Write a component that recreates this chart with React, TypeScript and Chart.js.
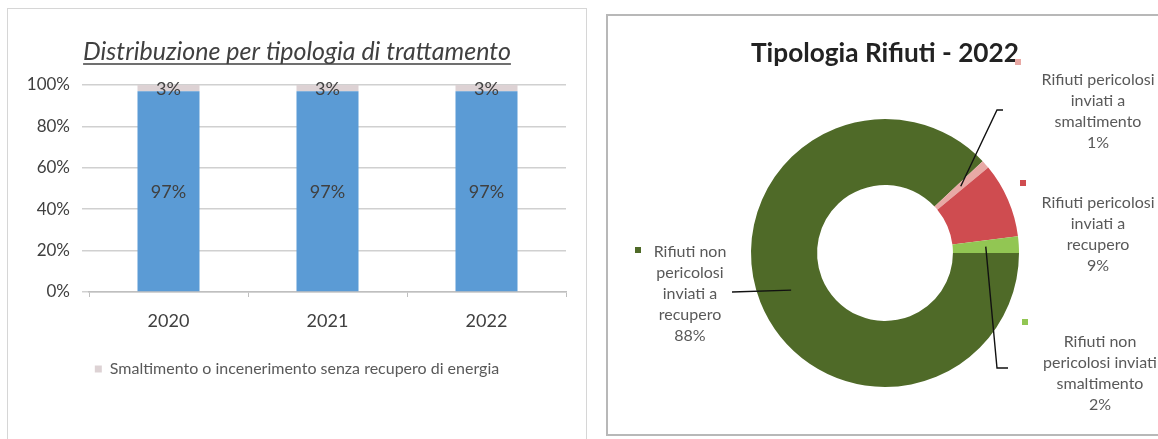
import React, { useEffect, useRef } from "react";
import { Chart, registerables } from "chart.js";

Chart.register(...registerables);

const FONT = "Lato, 'Open Sans', sans-serif";

// ---------- Left chart data ----------
const leftTitle = "Distribuzione per tipologia di trattamento";
const years = ["2020", "2021", "2022"];
const recoveryShare = [97, 97, 97];
const disposalShare = [3, 3, 3];
const recoveryLabel = "Recupero";
const disposalLabel = "Smaltimento o incenerimento senza recupero di energia";
const percentTicks = [0, 20, 40, 60, 80, 100];

// ---------- Right chart data ----------
const wasteTitle = "Tipologia Rifiuti - 2022";
const wasteCategories = [
  "Rifiuti non pericolosi inviati a recupero",
  "Rifiuti pericolosi inviati a smaltimento",
  "Rifiuti pericolosi inviati a recupero",
  "Rifiuti non pericolosi inviati smaltimento",
];
const wasteShares = [88, 1, 9, 2];
const wasteLabelLines = [
  ["Rifiuti non", "pericolosi", "inviati a", "recupero"],
  ["Rifiuti pericolosi", "inviati a", "smaltimento"],
  ["Rifiuti pericolosi", "inviati a", "recupero"],
  ["Rifiuti non", "pericolosi inviati", "smaltimento"],
];

// ---------- Styles ----------
const BLUE = "#5b9bd5";
const LIGHT = "#ddd2d4";
const wasteColors = ["#4f6a28", "#e8a9a5", "#cf4c50", "#92c653"];
const TITLE_SIZE = 25;
const TITLE_PAD_TOP = 37;
// label placement offsets relative to the doughnut centre (style only)
const labelLayout = [
  { tx: -195, ty: -1, kx: -247, ky: -3, leader: [[-153, 39]] },
  { tx: 213, ty: -173, kx: 133, ky: -191, leader: [[112, -143], [118, -143]] },
  { tx: 213, ty: -50, kx: 138, ky: -70, leader: null },
  { tx: 215, ty: 89, kx: 140, ky: 69, leader: [[112, 115], [123, 115]] },
];

const barLabelsPlugin = {
  id: "barLabels",
  afterDatasetsDraw(chart: any) {
    const ctx = chart.ctx;
    ctx.save();
    ctx.font = `18px ${FONT}`;
    ctx.fillStyle = "#404040";
    ctx.textAlign = "center";
    ctx.textBaseline = "middle";
    chart.data.datasets.forEach((ds: any, di: number) => {
      const meta = chart.getDatasetMeta(di);
      meta.data.forEach((bar: any, i: number) => {
        const { x, y, base } = bar.getProps(["x", "y", "base"], true);
        ctx.fillText(ds.data[i] + "%", x, (y + base) / 2 + 1);
      });
    });
    // underline title
    const tb = chart.titleBlock;
    if (tb) {
      ctx.font = `italic ${TITLE_SIZE}px ${FONT}`;
      const w = ctx.measureText(leftTitle).width;
      const cx = (tb.left + tb.right) / 2;
      const cy = tb.top + TITLE_PAD_TOP + TITLE_SIZE * 0.6 + 12;
      ctx.strokeStyle = "#404040";
      ctx.lineWidth = 1.3;
      ctx.beginPath();
      ctx.moveTo(cx - w / 2, cy);
      ctx.lineTo(cx + w / 2, cy);
      ctx.stroke();
    }
    ctx.restore();
  },
};

const doughnutLabelsPlugin = {
  id: "doughnutLabels",
  afterDatasetsDraw(chart: any) {
    const ctx = chart.ctx;
    const meta = chart.getDatasetMeta(0);
    if (!meta.data.length) return;
    const cx = meta.data[0].x;
    const cy = meta.data[0].y;
    ctx.save();
    meta.data.forEach((arc: any, i: number) => {
      const L = labelLayout[i];
      const p = arc.getCenterPoint();
      if (L.leader) {
        ctx.beginPath();
        ctx.moveTo(p.x, p.y);
        L.leader.forEach(([dx, dy]: number[]) => ctx.lineTo(cx + dx, cy + dy));
        ctx.strokeStyle = "#111";
        ctx.lineWidth = 1.4;
        ctx.stroke();
      }
      ctx.fillStyle = wasteColors[i];
      ctx.fillRect(cx + L.kx - 3, cy + L.ky - 3, 6, 6);
      ctx.fillStyle = "#595959";
      ctx.font = `16px ${FONT}`;
      ctx.textAlign = "center";
      ctx.textBaseline = "middle";
      const lines = [...wasteLabelLines[i], wasteShares[i] + "%"];
      lines.forEach((t, j) => ctx.fillText(t, cx + L.tx, cy + L.ty + j * 21));
    });
    ctx.restore();
  },
};

export default function App() {
  const barRef = useRef<HTMLCanvasElement>(null);
  const pieRef = useRef<HTMLCanvasElement>(null);

  useEffect(() => {
    document.body.style.margin = "0";
    const bar = new Chart(barRef.current as HTMLCanvasElement, {
      type: "bar",
      data: {
        labels: years,
        datasets: [
          {
            label: recoveryLabel,
            data: recoveryShare,
            backgroundColor: BLUE,
            categoryPercentage: 1,
            barPercentage: 0.39,
          },
          {
            label: disposalLabel,
            data: disposalShare,
            backgroundColor: LIGHT,
            categoryPercentage: 1,
            barPercentage: 0.39,
          },
        ],
      },
      options: {
        responsive: false,
        maintainAspectRatio: false,
        animation: false,
        layout: { padding: { left: 28, right: 24, top: 0, bottom: 52 } },
        scales: {
          x: {
            stacked: true,
            grid: {
              display: true,
              drawOnChartArea: false,
              offset: true,
              tickLength: 5,
              color: "#bfbfbf",
            },
            border: { display: true, color: "#bfbfbf", width: 1.5 },
            ticks: {
              font: { family: FONT, size: 18 },
              color: "#404040",
              padding: 13,
            },
            afterFit: (s: any) => {
              s.height = 59;
            },
          },
          y: {
            stacked: true,
            min: 0,
            max: 100,
            afterBuildTicks: (s: any) => {
              s.ticks = percentTicks.map((v) => ({ value: v }));
            },
            ticks: {
              callback: (v: any) => v + "%",
              font: { family: FONT, size: 17 },
              color: "#404040",
              padding: 12,
            },
            grid: { color: "#d0d0d0", lineWidth: 1.5, tickLength: 7 },
            border: { display: false },
            afterFit: (s: any) => {
              s.width = 61;
            },
          },
        },
        plugins: {
          title: {
            display: true,
            text: leftTitle,
            color: "#404040",
            font: { family: FONT, size: TITLE_SIZE, style: "italic", weight: "normal", lineHeight: 1.2 },
            padding: { top: TITLE_PAD_TOP, bottom: 85 - TITLE_PAD_TOP - TITLE_SIZE * 1.2 },
          },
          legend: {
            position: "bottom",
            labels: {
              filter: (item: any) => item.datasetIndex === 1,
              boxWidth: 7,
              boxHeight: 7,
              padding: 10,
              color: "#595959",
              font: { family: FONT, size: 16 },
            },
          },
          tooltip: { enabled: false },
        },
      },
      plugins: [barLabelsPlugin],
    } as any);

    const pie = new Chart(pieRef.current as HTMLCanvasElement, {
      type: "doughnut",
      data: {
        labels: wasteCategories,
        datasets: [
          {
            data: wasteShares,
            backgroundColor: wasteColors,
            borderWidth: 0,
            hoverOffset: 0,
          },
        ],
      },
      options: {
        responsive: false,
        maintainAspectRatio: false,
        animation: false,
        rotation: 90,
        cutout: "50.7%",
        layout: { autoPadding: false, padding: { left: 144, right: 139, top: 0, bottom: 48 } },
        plugins: {
          legend: { display: false },
          tooltip: { enabled: false },
          title: {
            display: true,
            text: wasteTitle,
            color: "#222",
            font: { family: FONT, size: 27, weight: "bold", lineHeight: 1.2 },
            padding: { top: 21.8, bottom: 104 - 21.8 - 27 * 1.2 },
          },
        },
      },
      plugins: [doughnutLabelsPlugin],
    } as any);

    return () => {
      bar.destroy();
      pie.destroy();
    };
  }, []);

  return (
    <div
      style={{
        position: "absolute",
        left: 0,
        top: 0,
        width: 1158,
        height: 439,
        overflow: "hidden",
        background: "#fff",
      }}
    >
      <div
        style={{
          position: "absolute",
          left: 7,
          top: 8,
          width: 580,
          height: 450,
          border: "1px solid #d6d6d6",
          boxSizing: "border-box",
        }}
      />
      <canvas
        ref={barRef}
        width={590}
        height={439}
        style={{ position: "absolute", left: 0, top: 0 }}
      />
      <div
        style={{
          position: "absolute",
          left: 606,
          top: 14,
          width: 570,
          height: 422,
          border: "2px solid #b8b8b8",
          boxSizing: "border-box",
        }}
      />
      <canvas
        ref={pieRef}
        width={551}
        height={420}
        style={{ position: "absolute", left: 607, top: 15 }}
      />
    </div>
  );
}
